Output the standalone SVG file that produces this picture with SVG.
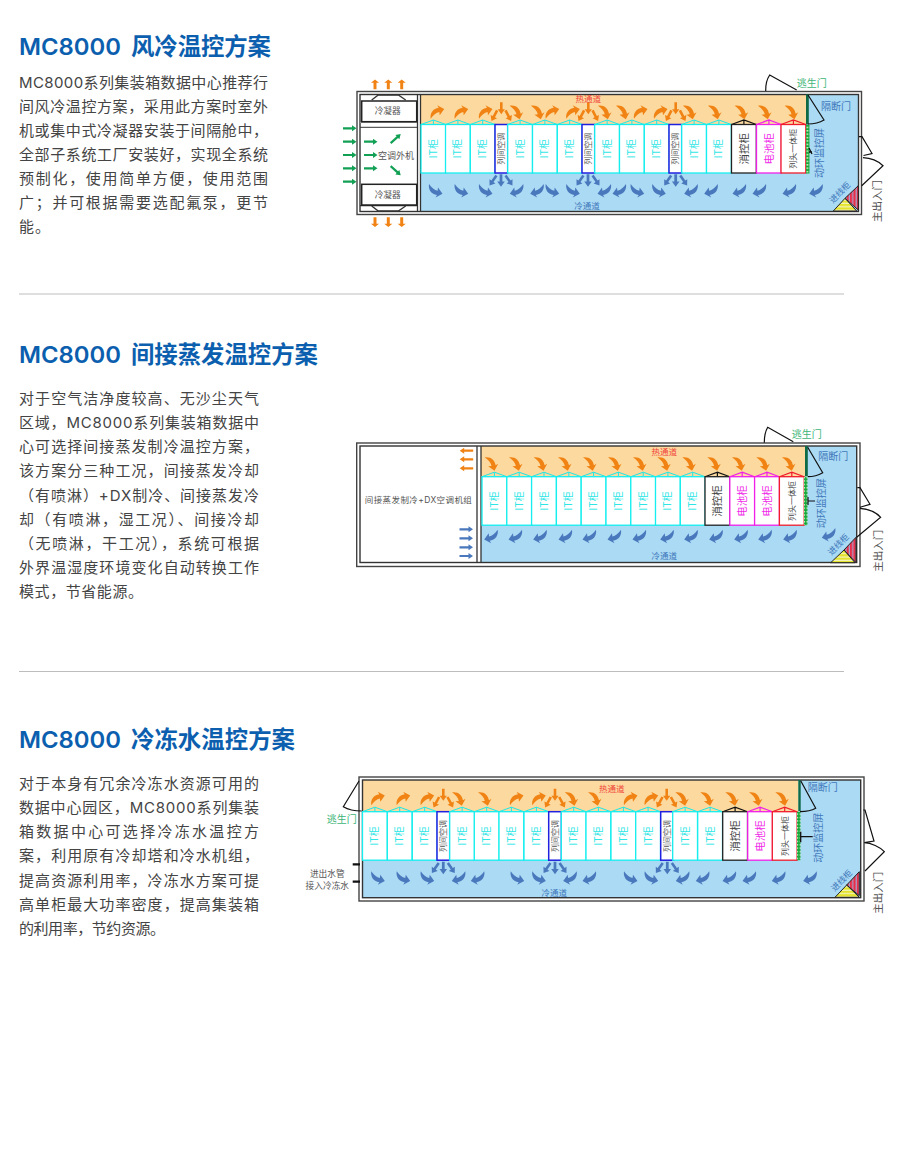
<svg xmlns="http://www.w3.org/2000/svg" width="900" height="1152" viewBox="0 0 900 1152">
<style>
text{font-family:"Inter","Noto Sans CJK SC","Liberation Sans",sans-serif}
.h{font-size:23.4px;font-weight:700;fill:#0c5fae}
.hl{font-size:23.4px;font-weight:600;fill:#0c5fae}
.b{font-size:15px;fill:#444}
.sep{stroke:#bdbdbd;stroke-width:1;fill:none}
.frame{fill:#fff;stroke:#444;stroke-width:1.4}
.inner{fill:none;stroke:#333;stroke-width:1.4}
.hot{fill:#fcd99e}
.cold{fill:#abdaf4}
.dv{stroke:#333;stroke-width:1.3;fill:none}
.door{stroke:#111;stroke-width:1.2;fill:none}
.c{text-anchor:middle}
.lb{font-size:10px;fill:#3f78bb}
.lr{font-size:8.5px;fill:#f0473c}
.lc{font-size:8.5px;fill:#3f78bb}
.lg{font-size:10px;fill:#3db577}
.ld{font-size:10.5px;fill:#555}
.ls{font-size:8.7px;fill:#555}
.ao{fill:#f08314}
.ab{fill:#4a78bd}
.ag{fill:#12a055}
</style>
<defs>
<pattern id="py" width="4" height="3.4" patternUnits="userSpaceOnUse"><rect width="4" height="3.4" fill="#e4e42e"/><rect y="2.2" width="4" height="1.2" fill="#f4f4c0"/></pattern>
<pattern id="pr" width="3.4" height="4" patternUnits="userSpaceOnUse"><rect width="3.4" height="4" fill="#e8304a"/><rect x="2.2" width="1.2" height="4" fill="#a8a0c8"/></pattern>
<pattern id="pg" width="3.4" height="3.4" patternUnits="userSpaceOnUse"><rect width="3.4" height="3.4" fill="#1aa83c"/><rect x="0.6" y="1" width="2" height="1.2" fill="#e8f8d8"/></pattern>
<path id="s" d="M-6,7C-7,1 -3.500,-3 2,-4L0.500,-6.500L7.500,-2.800L3,3.500L2.600,0.200C-0.500,0.800 -3.500,3.500 -6,7Z"/>
<path id="ar" d="M-6.500,-1.100H2.500V-3L7,0L2.500,3V1.100H-6.500Z"/>
<path id="sm" d="M-1.300,-6L1.300,-6L1.300,1L3.600,1L0,6L-3.600,1L-1.300,1Z"/>
<g id="sa"><use href="#s" class="ao"/></g>
<g id="sb"><use href="#s" class="ao" transform="rotate(90)"/></g>
<g id="cn"><use href="#s" class="ab" transform="scale(1,-1)"/></g>
<g id="cm"><use href="#s" class="ab" transform="scale(-1,-1)"/></g>
<g id="fo" class="ao"><use href="#sm" transform="translate(0,-3.500)"/><use href="#sm" transform="translate(-7,4) rotate(28)"/><use href="#sm" transform="translate(7,4) rotate(-28)"/></g>
<g id="fb" class="ab"><use href="#sm" transform="scale(1.05)"/><use href="#sm" transform="translate(-8,0) rotate(35)"/><use href="#sm" transform="translate(8,0) rotate(-35)"/></g>
<g id="it"><path d="M0,0L12.400,-4.500L24.800,0M12.400,-4.500V0" fill="none" stroke="#1ce8e8" stroke-width="1"/><rect width="24.800" height="48.500" fill="#fff" stroke="#14eeee" stroke-width="1.300"/><text transform="translate(12.400,24.200) rotate(-90)" dy=".35em" text-anchor="middle" font-size="10" fill="#2fe6e6">IT柜</text></g>
<g id="ac"><rect width="12.700" height="48.500" fill="#fff" stroke="#2020e0" stroke-width="1.500"/><text transform="translate(6.300,24.200) rotate(-90)" dy=".35em" text-anchor="middle" font-size="8" fill="#555">列间空调</text></g>
<g id="xf"><path d="M0,0L12.400,-4.500L24.800,0M12.400,-4.500V0" fill="none" stroke="#111" stroke-width="1.200"/><rect width="24.800" height="48.500" fill="#fff" stroke="#222" stroke-width="1.300"/><text transform="translate(12.400,24.200) rotate(-90)" dy=".35em" text-anchor="middle" font-size="10.500" fill="#444">消控柜</text></g>
<g id="bt"><path d="M0,0L12.400,-4.500L24.800,0M12.400,-4.500V0" fill="none" stroke="#f020e8" stroke-width="1.200"/><rect width="24.800" height="48.500" fill="#fff" stroke="#f020e8" stroke-width="1.300"/><text transform="translate(12.400,24.200) rotate(-90)" dy=".35em" text-anchor="middle" font-size="10.500" fill="#ef2ce8">电池柜</text></g>
<g id="ht"><path d="M0,0L12.400,-4.500L24.800,0M12.400,-4.500V0" fill="none" stroke="#f01c2c" stroke-width="1.200"/><rect width="24.800" height="48.500" fill="#fff" stroke="#f01c2c" stroke-width="1.300"/><text transform="translate(12.400,24.200) rotate(-90)" dy=".35em" text-anchor="middle" font-size="8" fill="#444">列头一体柜</text></g>
</defs>

<rect width="900" height="1152" fill="#fff"/>

<g id="sec1-text">
<text class="hl" x="19" y="55" textLength="102" lengthAdjust="spacingAndGlyphs">MC8000</text><text class="h" x="131" y="55" textLength="140">风冷温控方案</text>
<text class="b" x="19" y="88" textLength="249">MC8000系列集装箱数据中心推荐行</text>
<text class="b" x="19" y="112" textLength="249">间风冷温控方案，采用此方案时室外</text>
<text class="b" x="19" y="136" textLength="249">机或集中式冷凝器安装于间隔舱中，</text>
<text class="b" x="19" y="160" textLength="249">全部子系统工厂安装好，实现全系统</text>
<text class="b" x="19" y="184" textLength="249">预制化，使用简单方便，使用范围</text>
<text class="b" x="19" y="208" textLength="249">广；并可根据需要选配氟泵，更节</text>
<text class="b" x="19" y="232" textLength="31">能。</text>
</g>
<line class="sep" x1="19" y1="294" x2="844" y2="294"/>

<g id="sec2-text">
<text class="hl" x="19" y="363" textLength="102" lengthAdjust="spacingAndGlyphs">MC8000</text><text class="h" x="131" y="363" textLength="187">间接蒸发温控方案</text>
<text class="b" x="19" y="403.500" textLength="240">对于空气洁净度较高、无沙尘天气</text>
<text class="b" x="19" y="427.500" textLength="240">区域，MC8000系列集装箱数据中</text>
<text class="b" x="19" y="452" textLength="240">心可选择间接蒸发制冷温控方案，</text>
<text class="b" x="19" y="476" textLength="240">该方案分三种工况，间接蒸发冷却</text>
<text class="b" x="19" y="500.500" textLength="240">（有喷淋）+DX制冷、间接蒸发冷</text>
<text class="b" x="19" y="524.500" textLength="240">却（有喷淋，湿工况）、间接冷却</text>
<text class="b" x="19" y="548.500" textLength="240">（无喷淋，干工况），系统可根据</text>
<text class="b" x="19" y="572.500" textLength="240">外界温湿度环境变化自动转换工作</text>
<text class="b" x="19" y="596.500" textLength="124">模式，节省能源。</text>
</g>
<line class="sep" x1="19" y1="671.500" x2="844" y2="671.500"/>

<g id="sec3-text">
<text class="hl" x="19" y="748" textLength="102" lengthAdjust="spacingAndGlyphs">MC8000</text><text class="h" x="131" y="748" textLength="164">冷冻水温控方案</text>
<text class="b" x="19" y="788.500" textLength="240">对于本身有冗余冷冻水资源可用的</text>
<text class="b" x="19" y="812.500" textLength="240">数据中心园区，MC8000系列集装</text>
<text class="b" x="19" y="836.500" textLength="240">箱数据中心可选择冷冻水温控方</text>
<text class="b" x="19" y="861" textLength="240">案，利用原有冷却塔和冷水机组，</text>
<text class="b" x="19" y="885.500" textLength="240">提高资源利用率，冷冻水方案可提</text>
<text class="b" x="19" y="909.500" textLength="240">高单柜最大功率密度，提高集装箱</text>
<text class="b" x="19" y="933.500" textLength="146">的利用率，节约资源。</text>
</g>

<!-- Diagram 1 -->
<g id="d1">
<rect class="frame" x="357" y="91.500" width="504.500" height="123"/>
<rect class="hot" x="420.500" y="94.500" width="386.500" height="30"/>
<rect class="cold" x="420.500" y="173" width="390" height="38.500"/>
<rect class="cold" x="807" y="94.500" width="51.500" height="117"/>
<rect class="inner" x="360" y="94.500" width="498.500" height="117"/>
<path class="dv" d="M417.500,94.500V211.500M420.500,94.500V211.500"/>
<g id="d1-condenser">
<path d="M360,122.500H417" stroke="#999" stroke-width="1" fill="none"/>
<path d="M360,127.300H417" stroke="#333" stroke-width="1" fill="none"/>
<path class="dv" d="M371.700,100L378.300,95H398.300L405.700,100M371.700,206L378.300,211H398.300L405.700,206"/>
<path class="dv" d="M360,205.700H417"/>
<rect x="361.700" y="101" width="55" height="20.700" fill="#fff" stroke="#222" stroke-width="1.500"/>
<rect x="361.700" y="184.300" width="55" height="20.700" fill="#fff" stroke="#222" stroke-width="1.500"/>
<text class="ls c" x="387.700" y="114">冷凝器</text>
<text class="ls c" x="387.700" y="198">冷凝器</text>
<text class="c" x="396" y="158.500" font-size="9" fill="#555">空调外机</text>
</g>
<g id="d1-air" class="ag">
<use href="#ar" x="349.500" y="128.300"/><use href="#ar" x="349.500" y="141.700"/><use href="#ar" x="349.500" y="155"/><use href="#ar" x="349.500" y="168.300"/><use href="#ar" x="349.500" y="181.700"/>
<use href="#ar" x="370.500" y="141.700"/><use href="#ar" x="370.500" y="155"/><use href="#ar" x="370.500" y="168.300"/>
<use href="#ar" transform="translate(395.500,138.800) rotate(-42)"/><use href="#ar" transform="translate(395.500,170.500) rotate(42)"/>
</g>
<g id="d1-exhaust" class="ao">
<use href="#ar" transform="translate(375,84.500) rotate(-90) scale(.72,1.350)"/><use href="#ar" transform="translate(388.300,84.500) rotate(-90) scale(.72,1.350)"/><use href="#ar" transform="translate(401.700,84.500) rotate(-90) scale(.72,1.350)"/>
<use href="#ar" transform="translate(375,222) rotate(90) scale(.72,1.350)"/><use href="#ar" transform="translate(388.300,222) rotate(90) scale(.72,1.350)"/><use href="#ar" transform="translate(401.700,222) rotate(90) scale(.72,1.350)"/>
</g>
<g id="d1-cabinets">
<use id="d1-c1" href="#it" x="421" y="124.500"/><use id="d1-c2" href="#it" x="445.500" y="124.500"/><use id="d1-c3" href="#it" x="470.300" y="124.500"/><use id="d1-ac1" href="#ac" x="495" y="124.500"/>
<use id="d1-c4" href="#it" x="507.700" y="124.500"/><use id="d1-c5" href="#it" x="532.500" y="124.500"/><use id="d1-c6" href="#it" x="557.300" y="124.500"/><use id="d1-ac2" href="#ac" x="582" y="124.500"/>
<use id="d1-c7" href="#it" x="594.700" y="124.500"/><use id="d1-c8" href="#it" x="619.500" y="124.500"/><use id="d1-c9" href="#it" x="644.300" y="124.500"/><use id="d1-ac3" href="#ac" x="669" y="124.500"/>
<use id="d1-c10" href="#it" x="681.700" y="124.500"/><use id="d1-c11" href="#it" x="706.500" y="124.500"/><use id="d1-fire" href="#xf" x="731.500" y="124.500"/><use id="d1-bat" href="#bt" x="756.500" y="124.500"/><use id="d1-head" href="#ht" x="781" y="124.500"/>
</g>
<g id="d1-hot-arrows">
<use href="#sa" x="436.700" y="111.700"/><use href="#sa" x="460.700" y="111.700"/><use href="#sa" x="485" y="111.700"/><use href="#fo" x="501.300" y="111.700"/><use href="#sb" x="516.700" y="111.700"/><use href="#sb" x="538" y="111.700"/><use href="#sa" x="551.700" y="111.700"/><use href="#sa" x="572.300" y="111.700"/><use href="#fo" x="588.300" y="111.700"/><use href="#sb" x="605" y="111.700"/><use href="#sb" x="623" y="111.700"/><use href="#sa" x="640" y="111.700"/><use href="#sa" x="660" y="111.700"/><use href="#fo" x="675.700" y="111.700"/><use href="#sb" x="690" y="111.700"/><use href="#sb" x="715" y="111.700"/><use href="#sb" x="741.700" y="111.700"/><use href="#sb" x="765" y="111.700"/><use href="#sb" x="791.700" y="111.700"/>
</g>
<g id="d1-cold-arrows">
<use href="#cn" x="435" y="191"/><use href="#cn" x="460.700" y="191"/><use href="#cn" x="485" y="191"/><use href="#fb" x="501" y="180.500"/><use href="#cm" x="517.300" y="191"/><use href="#cm" x="537.700" y="191"/><use href="#cn" x="551.700" y="191"/><use href="#cn" x="572.300" y="191"/><use href="#fb" x="588" y="180.500"/><use href="#cm" x="605" y="191"/><use href="#cm" x="620" y="191"/><use href="#cn" x="636.700" y="191"/><use href="#cn" x="658.300" y="191"/><use href="#fb" x="675.700" y="180.500"/><use href="#cm" x="691.700" y="191"/><use href="#cm" x="711.700" y="191"/><use href="#cm" x="740" y="191"/><use href="#cm" x="760" y="191"/><use href="#cm" x="790" y="191"/><use href="#cm" x="816.700" y="191"/>
</g>
<text class="lr c" x="588.300" y="102">热通道</text>
<text class="lc c" x="587" y="209">冷通道</text>
<rect x="806" y="94.500" width="2.800" height="30" fill="#0f6a48"/>
<rect x="806" y="125" width="3.500" height="48.500" fill="url(#pg)"/>
<path d="M809,148L812,154M809,152H812" stroke="#111" stroke-width="1.300" fill="none"/>
<path class="door" d="M765.700,91C765.500,85 767,79 769.700,75L796.700,90M808,95L824,120C819,123 813,124 808,124"/>
<path class="door" d="M859,136.700H862L872,153.500L863.500,155.500M863,157.700C870,158 878,161 883,165.700L861.700,185.700"/>
<text class="lg c" x="811.700" y="87">逃生门</text>
<text class="lb c" x="836" y="110">隔断门</text>
<text class="lb c" font-size="10.500" transform="translate(819,153) rotate(-90)" dy=".35em">动环监控屏</text>
<text class="ld c" transform="translate(877.700,201) rotate(-90)" dy=".35em">主出入门</text>
<polygon points="833.300,211 845,198.300 856.700,211" fill="url(#py)" stroke="#222" stroke-width="1"/>
<polygon points="845,198.300 858.300,185.700 858.300,210" fill="url(#pr)" stroke="#222" stroke-width="1"/>
<text class="lc c" transform="translate(840,192.500) rotate(-45)" dy=".35em">进线柜</text>
</g>

<!-- Diagram 2 -->
<g id="d2">
<rect class="frame" x="356.700" y="443" width="503.300" height="123.500"/>
<rect class="hot" x="481" y="446" width="324" height="30"/>
<rect class="cold" x="481" y="525" width="330" height="37.500"/>
<rect class="cold" x="805" y="446" width="51.700" height="116.500"/>
<rect class="inner" x="360" y="446" width="496.700" height="116.500"/>
<path class="dv" d="M477,446V562.500M481,446V562.500"/>
<g id="d2-unit">
<text class="c" x="418.300" y="503" font-size="8.500" fill="#555" textLength="107">间接蒸发制冷+DX空调机组</text>
<g class="ao"><use href="#ar" transform="translate(466.700,450.700) rotate(180)"/><use href="#ar" transform="translate(466.700,459.300) rotate(180)"/><use href="#ar" transform="translate(466.700,468.300) rotate(180)"/></g>
<g class="ab"><use href="#ar" x="466" y="529.300"/><use href="#ar" x="466" y="538.300"/><use href="#ar" x="466" y="547.300"/><use href="#ar" x="466" y="556"/></g>
</g>
<g id="d2-cabinets">
<use id="d2-c1" href="#it" x="482" y="476.700"/><use id="d2-c2" href="#it" x="506.800" y="476.700"/><use id="d2-c3" href="#it" x="531.600" y="476.700"/><use id="d2-c4" href="#it" x="556.400" y="476.700"/><use id="d2-c5" href="#it" x="581.200" y="476.700"/><use id="d2-c6" href="#it" x="606" y="476.700"/><use id="d2-c7" href="#it" x="630.800" y="476.700"/><use id="d2-c8" href="#it" x="655.500" y="476.700"/><use id="d2-c9" href="#it" x="680.300" y="476.700"/>
<use id="d2-fire" href="#xf" x="705" y="476.700"/><use id="d2-bat1" href="#bt" x="729.800" y="476.700"/><use id="d2-bat2" href="#bt" x="754.600" y="476.700"/><use id="d2-head" href="#ht" x="779.400" y="476.700"/>
</g>
<g id="d2-hot-arrows">
<use href="#sb" x="491.700" y="463.300"/><use href="#sb" x="516" y="463.300"/><use href="#sb" x="540.700" y="463.300"/><use href="#sb" x="565" y="463.300"/><use href="#sb" x="590" y="463.300"/><use href="#sb" x="615" y="463.300"/><use href="#sb" x="640" y="463.300"/><use href="#sb" x="664.300" y="463.300"/><use href="#sb" x="689.300" y="463.300"/><use href="#sb" x="714.300" y="463.300"/><use href="#sb" x="739" y="463.300"/><use href="#sb" x="763.300" y="463.300"/><use href="#sb" x="789" y="463.300"/>
</g>
<g id="d2-cold-arrows">
<use href="#cm" x="491.700" y="536.700"/><use href="#cm" x="516" y="536.700"/><use href="#cm" x="540.700" y="536.700"/><use href="#cm" x="566" y="536.700"/><use href="#cm" x="590" y="536.700"/><use href="#cm" x="615" y="536.700"/><use href="#cm" x="640" y="536.700"/><use href="#cm" x="667.700" y="536.700"/><use href="#cm" x="691.700" y="536.700"/><use href="#cm" x="716.700" y="536.700"/><use href="#cm" x="741.700" y="536.700"/><use href="#cm" x="765.700" y="536.700"/><use href="#cm" x="790.700" y="536.700"/><use href="#cm" x="829.300" y="535"/>
</g>
<text class="lr c" x="664.300" y="454.500">热通道</text>
<text class="lc c" x="664.300" y="559">冷通道</text>
<rect x="805" y="446" width="2.800" height="30" fill="#0f6a48"/>
<rect x="804" y="476.700" width="3.500" height="48.500" fill="url(#pg)"/>
<path d="M808,497V505M808,501H815" stroke="#111" stroke-width="1.200" fill="none"/>
<path class="door" d="M764.300,442.700C764.300,437 765.500,431 767.700,427.300L793.300,441.700M807.700,447.300L822.700,472.700C818,475.500 813,476.700 807.700,476.700"/>
<path class="door" d="M857.300,487.700H860L870,504.300L860,507.300M860,508.300C868,509 876,512 880.700,517.300L856.700,537.300"/>
<text class="lg c" x="806.700" y="437.500">逃生门</text>
<text class="lb c" x="833.300" y="459.500">隔断门</text>
<text class="lb c" font-size="10.500" transform="translate(821,503.300) rotate(-90)" dy=".35em">动环监控屏</text>
<text class="ld c" transform="translate(878.700,550.700) rotate(-90)" dy=".35em">主出入门</text>
<polygon points="830.700,562.700 844,550 855,562.700" fill="url(#py)" stroke="#222" stroke-width="1"/>
<polygon points="844,550 856,537.300 856,562.700" fill="url(#pr)" stroke="#222" stroke-width="1"/>
<text class="lc c" transform="translate(838.300,544.500) rotate(-45)" dy=".35em">进线柜</text>
</g>

<!-- Diagram 3 -->
<g id="d3">
<rect class="frame" x="359" y="777" width="505" height="124"/>
<rect class="hot" x="362.500" y="780" width="436" height="32"/>
<rect class="cold" x="362.500" y="860" width="440" height="37.700"/>
<rect class="cold" x="798.500" y="780" width="62.200" height="117.700"/>
<rect class="inner" x="362.500" y="780" width="498.200" height="117.700"/>
<g id="d3-cabinets">
<use id="d3-c1" href="#it" x="362.500" y="811.700"/><use id="d3-c2" href="#it" x="387.300" y="811.700"/><use id="d3-c3" href="#it" x="412.300" y="811.700"/><use id="d3-ac1" href="#ac" x="437" y="811.700"/>
<use id="d3-c4" href="#it" x="449.700" y="811.700"/><use id="d3-c5" href="#it" x="474.300" y="811.700"/><use id="d3-c6" href="#it" x="499" y="811.700"/><use id="d3-c7" href="#it" x="524" y="811.700"/><use id="d3-ac2" href="#ac" x="548.700" y="811.700"/>
<use id="d3-c8" href="#it" x="561.300" y="811.700"/><use id="d3-c9" href="#it" x="586" y="811.700"/><use id="d3-c10" href="#it" x="611" y="811.700"/><use id="d3-c11" href="#it" x="635.700" y="811.700"/><use id="d3-ac3" href="#ac" x="660.700" y="811.700"/>
<use id="d3-c12" href="#it" x="672.700" y="811.700"/><use id="d3-c13" href="#it" x="697.700" y="811.700"/><use id="d3-fire" href="#xf" x="722.700" y="811.700"/><use id="d3-bat" href="#bt" x="747.700" y="811.700"/><use id="d3-head" href="#ht" x="772.300" y="811.700"/>
</g>
<g id="d3-hot-arrows">
<use href="#sa" x="377.300" y="798.300"/><use href="#sa" x="402.700" y="798.300"/><use href="#sa" x="426.700" y="798.300"/><use href="#fo" x="443.300" y="798.300"/><use href="#sb" x="459" y="798.300"/><use href="#sb" x="485" y="798.300"/><use href="#sa" x="516" y="798.300"/><use href="#sa" x="538.300" y="798.300"/><use href="#fo" x="555" y="798.300"/><use href="#sb" x="571.700" y="798.300"/><use href="#sb" x="595" y="798.300"/><use href="#sa" x="630" y="798.300"/><use href="#sa" x="650.700" y="798.300"/><use href="#fo" x="666.700" y="798.300"/><use href="#sb" x="682.300" y="798.300"/><use href="#sb" x="707.300" y="798.300"/><use href="#sb" x="732.300" y="798.300"/><use href="#sb" x="756" y="798.300"/><use href="#sb" x="782.300" y="798.300"/>
</g>
<g id="d3-cold-arrows">
<use href="#cn" x="377.300" y="878.300"/><use href="#cn" x="402.700" y="878.300"/><use href="#cn" x="426.700" y="878.300"/><use href="#fb" x="443.300" y="868"/><use href="#cm" x="459.300" y="878.300"/><use href="#cm" x="478.300" y="878.300"/><use href="#cn" x="516.700" y="878.300"/><use href="#cn" x="538.300" y="878.300"/><use href="#fb" x="555" y="868"/><use href="#cm" x="570.700" y="878.300"/><use href="#cm" x="590" y="878.300"/><use href="#cn" x="630" y="878.300"/><use href="#cn" x="650.700" y="878.300"/><use href="#fb" x="667.300" y="868"/><use href="#cm" x="683.300" y="878.300"/><use href="#cm" x="703.300" y="878.300"/><use href="#cm" x="730" y="878.300"/><use href="#cm" x="750" y="878.300"/><use href="#cm" x="779.300" y="878.300"/><use href="#cm" x="810.700" y="878.300"/>
</g>
<text class="lr c" x="611.700" y="792">热通道</text>
<text class="lc c" x="554.300" y="896">冷通道</text>
<rect x="798.300" y="780" width="2.400" height="31" fill="#0f6a48"/>
<rect x="797" y="811.700" width="3.500" height="48.500" fill="url(#pg)"/>
<path d="M800.700,831.700V842.300M800.700,836.700H812.700" stroke="#111" stroke-width="1.300" fill="none"/>
<path class="door" d="M359,781L343.300,806.700C348,809.500 355,811 361.700,811M800.700,780.700L815.700,808.300C811,811 806,811.700 800,811.700"/>
<path class="door" d="M863.300,810H865L874,841L864.300,842.700C871,843 880,847 884.300,851.700L865,871"/>
<path d="M352.700,864.300H360M352.700,881.700H360" stroke="#111" stroke-width="2.200" fill="none"/>
<text class="lg c" x="341.700" y="822.500">逃生门</text>
<text class="lb c" x="822.700" y="790.500">隔断门</text>
<text class="lb c" font-size="10.500" transform="translate(818.300,837.700) rotate(-90)" dy=".35em">动环监控屏</text>
<text class="ld c" transform="translate(878.300,892.700) rotate(-90)" dy=".35em">主出入门</text>
<text class="ls c" x="327.300" y="877.300">进出水管</text>
<text class="ls c" x="327.300" y="888.500">接入冷冻水</text>
<polygon points="835,897.300 846.700,885 859.300,897.300" fill="url(#py)" stroke="#222" stroke-width="1"/>
<polygon points="846.700,885 859.300,871.700 859.300,895.700" fill="url(#pr)" stroke="#222" stroke-width="1"/>
<text class="lc c" transform="translate(841.700,880.500) rotate(-45)" dy=".35em">进线柜</text>
</g>
</svg>
